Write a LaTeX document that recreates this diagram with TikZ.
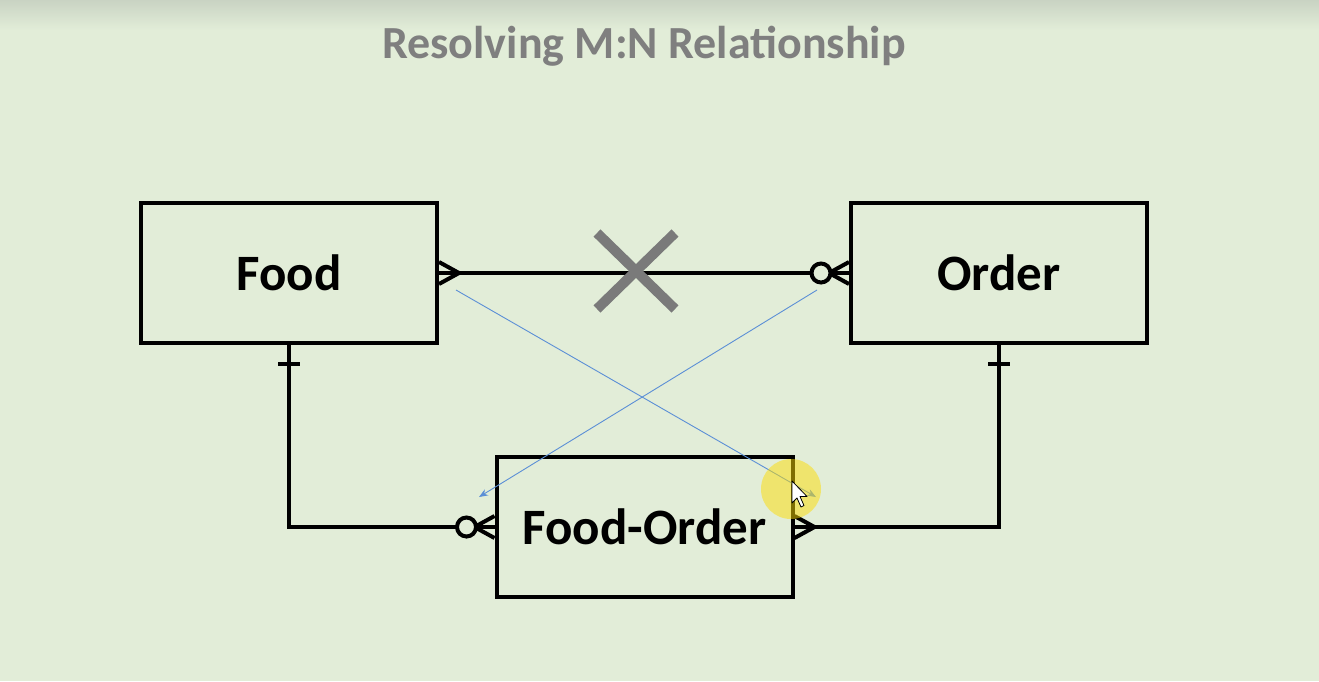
\documentclass[tikz,border=0pt]{standalone}
\usepackage{fontspec}
\setmainfont{Carlito}
\usetikzlibrary{calc,arrows.meta}
\definecolor{bg}{HTML}{E2EDD8}
\definecolor{bgtop}{HTML}{C9D3C3}
\definecolor{ttl}{HTML}{7F7F7F}
\definecolor{xgray}{HTML}{7A7A7A}
\definecolor{blueln}{HTML}{5B8FD6}
\tikzset{
  entity/.style={draw=black, line width=4pt, minimum width=296pt, minimum height=140pt, inner sep=0pt, font=\fontsize{51}{60}\selectfont\bfseries},
  rel/.style={line width=4pt, black},
  thinblue/.style={blueln, line width=0.9pt, -{Stealth[length=9pt,width=7pt]}},
}
\begin{document}
\begin{tikzpicture}[x=1pt,y=-1pt]
\useasboundingbox (0,0) rectangle (1319,681);
\fill[bg] (0,0) rectangle (1319,681);
\shade[top color=bgtop, bottom color=bg] (0,0) rectangle (1319,30);
\node[text=ttl, font=\fontsize{46}{54}\selectfont\bfseries] (title) at (644,46) {Resolving M:N Relationship};

\node[entity] (food) at (289,273) {Food};
\node[entity] (order) at (999,273) {Order};
\node[entity] (fo) at (644.5,527) {Food-Order};

% Food -- Order (crossed out)
\draw[rel] (food.east) -- (order.west);
\draw[rel, line join=round] ($(food.east)+(0,-11)$) -- ($(food.east)+(20,0)$) -- ($(food.east)+(0,11)$);
\draw[rel, line join=round] ($(order.west)+(0,-11)$) -- ($(order.west)+(-20,0)$) -- ($(order.west)+(0,11)$);
\draw[rel, fill=bg] ($(order.west)+(-28,0)$) circle (9.5pt);

% Food -- Food-Order
\draw[rel] (food.south) |- (fo.west);
\draw[rel] ($(food.south)+(-11,19)$) -- ($(food.south)+(11,19)$);
\draw[rel, line join=round] ($(fo.west)+(0,-11)$) -- ($(fo.west)+(-20,0)$) -- ($(fo.west)+(0,11)$);
\draw[rel, fill=bg] ($(fo.west)+(-28,0)$) circle (9.5pt);

% Order -- Food-Order
\draw[rel] (order.south) |- (fo.east);
\draw[rel] ($(order.south)+(-11,19)$) -- ($(order.south)+(11,19)$);
\draw[rel, line join=round] ($(fo.east)+(0,-11)$) -- ($(fo.east)+(20,0)$) -- ($(fo.east)+(0,11)$);

% cross mark
\coordinate (xc) at (636,271);
\draw[xgray, line width=10pt] ($(xc)+(-39,-38)$) -- ($(xc)+(39,38)$);
\draw[xgray, line width=10pt] ($(xc)+(-39,38)$) -- ($(xc)+(39,-38)$);

% thin blue arrows
\coordinate (b1s) at (456,290);
\coordinate (b1e) at (816,497);
\coordinate (b2s) at (817,290);
\coordinate (b2e) at (479,497);
\draw[thinblue] (b1s) -- (b1e);
\draw[thinblue] (b2s) -- (b2e);

% pointer highlight
\fill[yellow!80!orange, opacity=0.5] (791,489) circle (30pt);
\coordinate (cur) at (792,481);
\draw[black, line width=0.8pt, fill=white, line join=round] (cur) -- ++(0,22) -- ++(5,-5) -- ++(4,9) -- ++(3,-1.5) -- ++(-4,-9) -- ++(7,0) -- cycle;
\end{tikzpicture}
\end{document}
